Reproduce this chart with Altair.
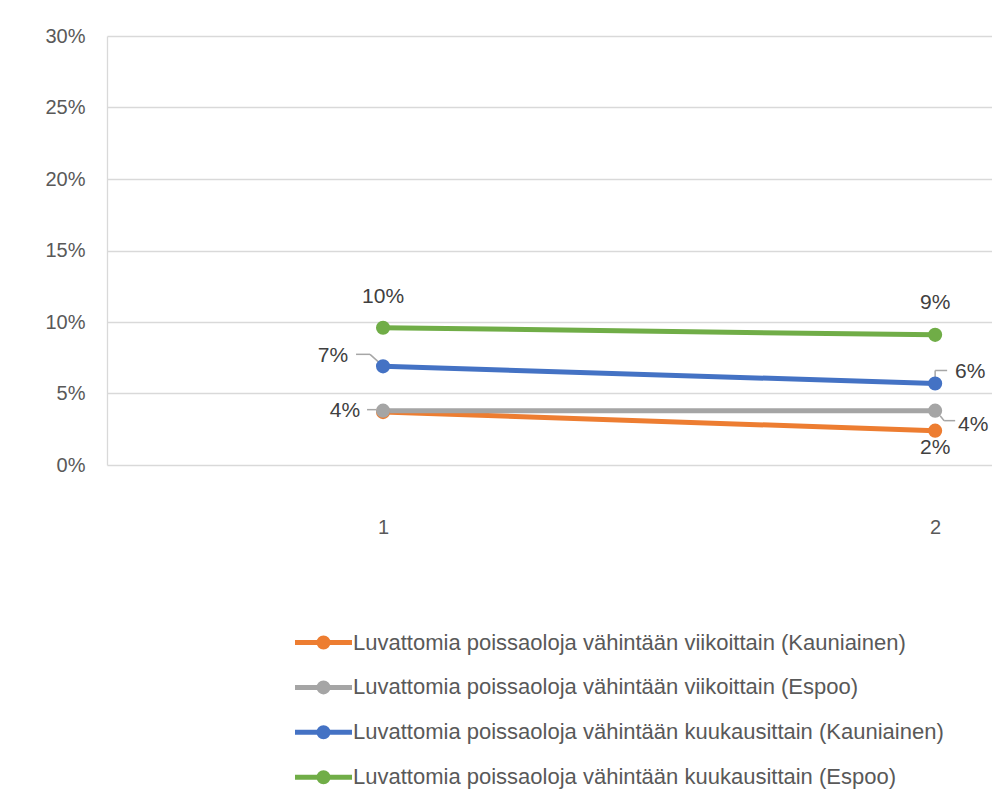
import altair as alt
import pandas as pd

series = [
    "Luvattomia poissaoloja vähintään viikoittain (Kauniainen)",
    "Luvattomia poissaoloja vähintään viikoittain (Espoo)",
    "Luvattomia poissaoloja vähintään kuukausittain (Kauniainen)",
    "Luvattomia poissaoloja vähintään kuukausittain (Espoo)",
]
colors = ["#ED7D31", "#A5A5A5", "#4472C4", "#70AD47"]
x_values = [1, 2]
orange_vals = [0.037, 0.024]
gray_vals = [0.038, 0.038]
blue_vals = [0.069, 0.057]
green_vals = [0.096, 0.091]
y_ticks = [0, 0.05, 0.10, 0.15, 0.20, 0.25, 0.30]

all_vals = [orange_vals, gray_vals, blue_vals, green_vals]
rows = []
for si, (name, vals) in enumerate(zip(series, all_vals)):
    for xv, v in zip(x_values, vals):
        rows.append({"series": name, "s": si, "x": xv, "y": v})
df = pd.DataFrame(rows)

FONT = "Liberation Sans"
AX_COLOR = "#595959"
LBL_COLOR = "#404040"
GRID = "#D9D9D9"

x_enc = alt.X("x:Q", scale=alt.Scale(domain=[0.5, 2.103], nice=False, zero=False),
              axis=alt.Axis(values=x_values, format="d", title=None, grid=False, domain=False,
                            ticks=False, labelPadding=52, labelFontSize=20, labelColor=AX_COLOR,
                            labelFont=FONT))
y_enc = alt.Y("y:Q", scale=alt.Scale(domain=[0, 0.30], nice=False),
              axis=alt.Axis(values=y_ticks, format=".0%", title=None, grid=True, gridColor=GRID,
                            gridWidth=1.3, domain=True, domainColor=GRID, domainWidth=1.3,
                            ticks=False, labelPadding=22, labelFontSize=20, labelColor=AX_COLOR,
                            labelFont=FONT))
color_scale = alt.Scale(domain=series, range=colors)

base = alt.Chart(df)

symbol_path = ("M-1.9,0L1.9,0"
               "M0.3,0A0.3,0.3 0 1,1 -0.3,0A0.3,0.3 0 1,1 0.3,0Z")

lines = base.mark_line(strokeWidth=5).encode(
    x=x_enc, y=y_enc,
    color=alt.Color("series:N", scale=color_scale, sort=series,
                    legend=alt.Legend(title=None, orient="none", legendX=199, legendY=589,
                                      direction="vertical", symbolType=symbol_path,
                                      symbolSize=900, symbolStrokeWidth=5, labelFontSize=22,
                                      labelFont=FONT, labelColor=AX_COLOR, rowPadding=12.9,
                                      labelOffset=12, padding=0, labelLimit=800)),
    detail="series:N",
    order="s:Q",
)

points = base.mark_circle(size=200, opacity=1).encode(
    x="x:Q", y="y:Q",
    color=alt.Color("series:N", scale=color_scale, legend=None),
)


def label(si, xv, dx, dy):
    return base.transform_filter(
        (alt.datum.s == si) & (alt.datum.x == xv)
    ).mark_text(dx=dx, dy=dy, fontSize=21, font=FONT, color=LBL_COLOR,
                align="center", baseline="middle").encode(
        x="x:Q", y="y:Q", text=alt.Text("y:Q", format=".0%"))


def leader(si, xv, x1, y1, x2, y2):
    return base.transform_filter(
        (alt.datum.s == si) & (alt.datum.x == xv)
    ).mark_rule(color="#A6A6A6", strokeWidth=1.5, xOffset=x1, yOffset=y1,
                x2Offset=x2, y2Offset=y2).encode(
        x="x:Q", x2="x:Q", y="y:Q", y2="y:Q")


labels = [
    label(3, 1, 0, -31), label(3, 2, 0, -32),
    label(2, 1, -50, -10), label(2, 2, 35, -11),
    label(1, 1, -38, 0), label(1, 2, 38, 14),
    label(0, 2, 0, 17),
]
leaders = [
    leader(2, 1, -27, -12, -13, -12), leader(2, 1, -13, -12, -3, -3),
    leader(1, 1, -16, -1, -7, -1),
    leader(2, 2, 0, -4, 0, -13), leader(2, 2, 0, -13, 12, -13),
    leader(1, 2, 5, 5, 9, 10), leader(1, 2, 9, 10, 20, 10),
]

chart = alt.layer(*leaders, lines, points, *labels).properties(
    width=885, height=429,
    autosize=alt.AutoSizeParams(type="none"),
    padding={"left": 99, "top": 28, "right": 0, "bottom": 333},
    background="white",
).configure_view(stroke=None)

chart.save("out.html", embed_options={"renderer": "svg", "actions": False})
